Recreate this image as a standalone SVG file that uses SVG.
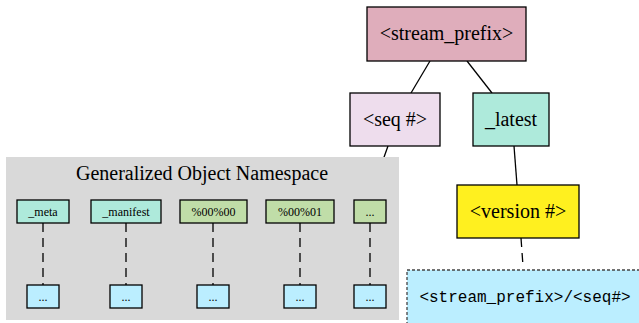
<svg xmlns="http://www.w3.org/2000/svg" width="639" height="323" viewBox="0 0 639 323">
  <style>
    .node rect { stroke: #000; stroke-width: 1.3; }
    .big { font-family: "Liberation Serif", "Times New Roman", serif; font-size: 20px; fill: #000; text-anchor: middle; }
    .small { font-family: "Liberation Serif", "Times New Roman", serif; font-size: 12px; fill: #000; text-anchor: middle; }
    .mono { font-family: "Liberation Mono", "Courier New", monospace; font-size: 16px; fill: #000; text-anchor: middle; }
    .edge { stroke: #000; stroke-width: 1.3; fill: none; }
    .dash { stroke-dasharray: 9 6; }
    .teal { fill: #aeeadb; }
    .green { fill: #c0dda8; }
    .blue { fill: #bbeeff; }
  </style>
  <rect width="639" height="323" fill="#fff"/>

  <!-- connectors -->
  <g id="connectors">
    <line class="edge" x1="430" y1="61" x2="411" y2="93"/>
    <line class="edge" x1="467" y1="61" x2="492" y2="93"/>
    <line class="edge" x1="388" y1="146" x2="383" y2="160"/>
    <line class="edge" x1="514" y1="146" x2="517" y2="185"/>
    <line class="edge dash" x1="521" y1="238" x2="523" y2="266"/>
  </g>

  <!-- namespace cluster -->
  <g id="cluster_namespace">
    <rect x="6" y="157" width="393" height="163" fill="#d9d9d9"/>
    <text class="big" x="202" y="180">Generalized Object Namespace</text>
  </g>

  <g id="cluster_edges">
    <line class="edge dash" x1="43" y1="223" x2="43" y2="285"/>
    <line class="edge dash" x1="126" y1="223" x2="126" y2="285"/>
    <line class="edge dash" x1="213" y1="223" x2="213" y2="285"/>
    <line class="edge dash" x1="300" y1="223" x2="300" y2="285"/>
    <line class="edge dash" x1="370" y1="223" x2="370" y2="285"/>
  </g>

  <g id="stream_prefix" class="node">
    <rect x="367" y="7" width="159" height="54" fill="#dfadbb"/>
    <text class="big" x="446.5" y="40">&lt;stream_prefix&gt;</text>
  </g>
  <g id="seq" class="node">
    <rect x="350" y="93" width="90" height="53" fill="#eedded"/>
    <text class="big" x="395" y="126">&lt;seq #&gt;</text>
  </g>
  <g id="latest" class="node">
    <rect x="473" y="93" width="76" height="53" class="teal"/>
    <text class="big" x="511" y="126">_latest</text>
  </g>
  <g id="version" class="node">
    <rect x="457" y="185" width="122" height="53" fill="#fff01f"/>
    <text class="big" x="518" y="218">&lt;version #&gt;</text>
  </g>
  <g id="stream_path">
    <rect x="407" y="270" width="240" height="60" class="blue" stroke="#444" stroke-width="1.3" stroke-dasharray="3 2"/>
    <text class="mono" x="525" y="302">&lt;stream_prefix&gt;/&lt;seq#&gt;</text>
  </g>

  <g id="meta" class="node">
    <rect x="17" y="200" width="52" height="23" class="teal"/>
    <text class="small" x="43" y="215.5">_meta</text>
  </g>
  <g id="manifest" class="node">
    <rect x="91" y="200" width="70" height="23" class="teal"/>
    <text class="small" x="126" y="215.5">_manifest</text>
  </g>
  <g id="key_0000" class="node">
    <rect x="180" y="200" width="67" height="23" class="green"/>
    <text class="small" x="213.5" y="215.5">%00%00</text>
  </g>
  <g id="key_0001" class="node">
    <rect x="266" y="200" width="68" height="23" class="green"/>
    <text class="small" x="300" y="215.5">%00%01</text>
  </g>
  <g id="key_more" class="node">
    <rect x="354" y="200" width="32" height="23" class="green"/>
    <text class="small" x="370" y="215.5">...</text>
  </g>

  <g id="meta_val" class="node">
    <rect x="27" y="285" width="32" height="23" class="blue"/>
    <text class="small" x="43" y="300.5">...</text>
  </g>
  <g id="manifest_val" class="node">
    <rect x="110" y="285" width="32" height="23" class="blue"/>
    <text class="small" x="126" y="300.5">...</text>
  </g>
  <g id="key_0000_val" class="node">
    <rect x="197" y="285" width="32" height="23" class="blue"/>
    <text class="small" x="213" y="300.5">...</text>
  </g>
  <g id="key_0001_val" class="node">
    <rect x="284" y="285" width="32" height="23" class="blue"/>
    <text class="small" x="300" y="300.5">...</text>
  </g>
  <g id="key_more_val" class="node">
    <rect x="354" y="285" width="32" height="23" class="blue"/>
    <text class="small" x="370" y="300.5">...</text>
  </g>
</svg>
